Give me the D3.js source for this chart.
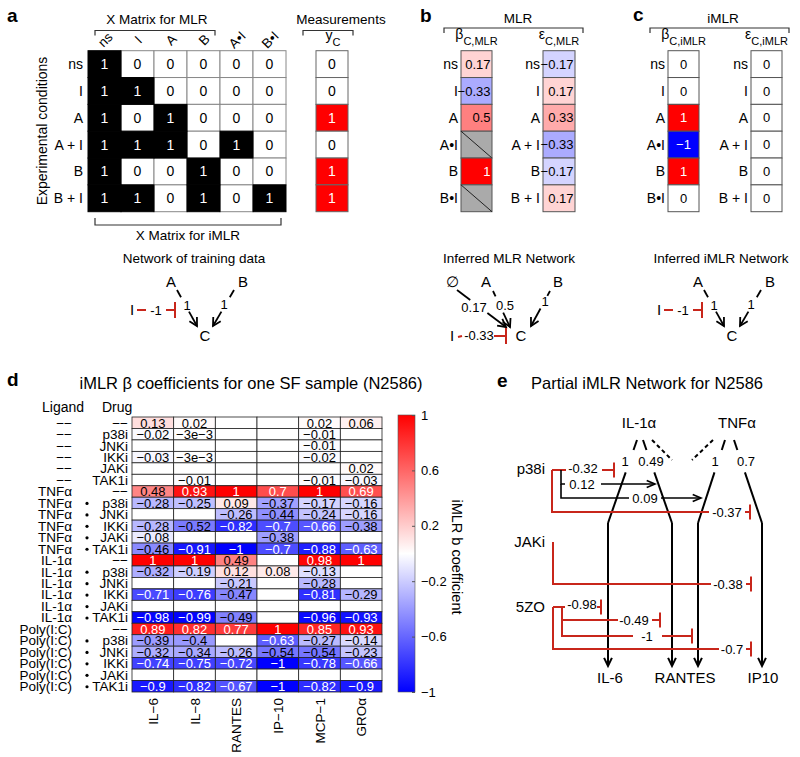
<!DOCTYPE html>
<html><head><meta charset="utf-8">
<script src="https://cdn.jsdelivr.net/npm/d3@7"></script>
<style>body{margin:0;background:#fff}</style>
</head><body>
<svg id="c" width="800" height="757"></svg>
<script>
// ---------------- DATA ----------------
const conditions = ["ns", "I", "A", "A + I", "B", "B + I"];
const xCols = ["ns", "I", "A", "B", "A•I", "B•I"];
const xMatrix = [
  [1,0,0,0,0,0],
  [1,1,0,0,0,0],
  [1,0,1,0,0,0],
  [1,1,1,0,1,0],
  [1,0,0,1,0,0],
  [1,1,0,1,0,1]
];
const yC = [0,0,1,0,1,1];
const betaTerms = ["ns", "I", "A", "A•I", "B", "B•I"];
const betaMLR = [0.17, -0.33, 0.5, null, 1, null];
const epsMLR = [-0.17, 0.17, 0.33, -0.33, -0.17, 0.17];
const betaIMLR = [0, 0, 1, -1, 1, 0];
const epsIMLR = [0, 0, 0, 0, 0, 0];

const trainingEdges = [{from:"A", to:"C", w:1}, {from:"B", to:"C", w:1}, {from:"I", to:"C", w:-1}];
const mlrEdges = [{from:"∅", to:"C", w:0.17}, {from:"A", to:"C", w:0.5}, {from:"B", to:"C", w:1}, {from:"I", to:"C", w:-0.33}];
const imlrEdges = [{from:"A", to:"C", w:1}, {from:"B", to:"C", w:1}, {from:"I", to:"C", w:-1}];

const cytokines = ["IL−6", "IL−8", "RANTES", "IP−10", "MCP−1", "GROα"];
const ligandNames = ["--", "TNFα", "IL-1α", "Poly(I:C)"];
const drugNames = ["--", "p38i", "JNKi", "IKKi", "JAKi", "TAK1i"];
const betaN2586 = [
  [0.13, 0.02, null, null, 0.02, 0.06],
  [-0.02, -0.003, null, null, -0.01, null],
  [null, null, null, null, -0.01, null],
  [-0.03, -0.003, null, null, -0.02, null],
  [null, null, null, null, null, 0.02],
  [null, -0.01, null, null, -0.01, -0.03],
  [0.48, 0.93, 1, 0.7, 1, 0.69],
  [-0.28, -0.25, 0.09, -0.37, -0.17, -0.16],
  [null, null, -0.26, -0.44, -0.24, -0.16],
  [-0.28, -0.52, -0.82, -0.7, -0.66, -0.38],
  [-0.08, null, null, -0.38, null, null],
  [-0.46, -0.91, -1, -0.7, -0.88, -0.63],
  [1, 1, 0.49, null, 0.98, 1],
  [-0.32, -0.19, 0.12, 0.08, -0.13, null],
  [null, null, -0.21, null, -0.28, null],
  [-0.71, -0.76, -0.47, null, -0.81, -0.29],
  [null, null, null, null, null, null],
  [-0.98, -0.99, -0.49, null, -0.96, -0.93],
  [0.89, 0.82, 0.77, 1, 0.85, 0.93],
  [-0.39, -0.4, null, -0.63, -0.27, -0.14],
  [-0.32, -0.34, -0.26, -0.54, -0.54, -0.23],
  [-0.74, -0.75, -0.72, -1, -0.78, -0.66],
  [null, null, null, null, null, null],
  [-0.9, -0.82, -0.67, -1, -0.82, -0.9]
];
const colorTicks = [1, 0.6, 0.2, -0.2, -0.6, -1];

const eLigandEdges = [
  {from:"IL-1α", to:"IL-6", w:1},
  {from:"IL-1α", to:"RANTES", w:0.49},
  {from:"TNFα", to:"RANTES", w:1},
  {from:"TNFα", to:"IP10", w:0.7}
];
const eDrugEdges = [
  {drug:"p38i", w:-0.32}, {drug:"p38i", w:0.12}, {drug:"p38i", w:0.09}, {drug:"p38i", w:-0.37},
  {drug:"JAKi", w:-0.38},
  {drug:"5ZO", w:-0.98}, {drug:"5ZO", w:-0.49}, {drug:"5ZO", w:-1}, {drug:"5ZO", w:-0.7}
];

// ---------------- SETUP ----------------
const FONT = "'Liberation Sans', Arial, Helvetica, sans-serif";
const RED = "#c8261b";
const svg = d3.select("#c").style("font-family", FONT);
const col = d3.scaleLinear().domain([-1, 0, 1]).range(["#0000ff", "#ffffff", "#ff0000"]);

function txt(g, x, y, s, o = {}) {
  const t = g.append("text").attr("x", x).attr("y", y).text(s)
    .attr("font-size", o.size || 13).attr("text-anchor", o.anchor || "middle")
    .attr("fill", o.fill || "#000");
  if (o.bold) t.attr("font-weight", "bold");
  if (o.dy) t.attr("dy", o.dy);
  if (o.rot != null) t.attr("transform", `rotate(${o.rot},${x},${y})`);
  return t;
}
const lineGen = d3.line();
function poly(g, pts, color, w, dash) {
  const p = g.append("path").attr("d", lineGen(pts)).attr("fill", "none")
    .attr("stroke", color).attr("stroke-width", w);
  if (dash) p.attr("stroke-dasharray", dash);
  return p;
}
function chevron(g, x1, y1, x2, y2, color, w, len = 9, ang = 0.5) {
  const a = Math.atan2(y2 - y1, x2 - x1);
  const p1 = [x2 - len * Math.cos(a - ang), y2 - len * Math.sin(a - ang)];
  const p2 = [x2 - len * Math.cos(a + ang), y2 - len * Math.sin(a + ang)];
  poly(g, [p1, [x2, y2], p2], color, w);
}
function tbar(g, x, y, h, color) {
  poly(g, [[x, y - h], [x, y + h]], color, 2);
}
function lerp(p0, p1, t) { return [p0[0] + (p1[0] - p0[0]) * t, p0[1] + (p1[1] - p0[1]) * t]; }
function gapLine(g, p0, p1, t0, t1, color, w) {
  poly(g, [p0, lerp(p0, p1, t0)], color, w);
  poly(g, [lerp(p0, p1, t1), p1], color, w);
}
function bracket(g, x0, x1, y, tick) {
  poly(g, [[x0, y + tick], [x0, y], [x1, y], [x1, y + tick]], "#333", 1.2);
}

// panel letters
[["a", 7, 22], ["b", 420, 22], ["c", 633, 21], ["d", 7, 386], ["e", 497, 387]].forEach(([s, x, y]) =>
  txt(svg, x, y, s, {size: 19, bold: true, anchor: "start"}));

// ---------------- PANEL A ----------------
const gA = svg.append("g");
const aCol = d3.scaleBand().domain(d3.range(6)).range([88, 286]);
const aRow = d3.scaleBand().domain(d3.range(6)).range([50.7, 211.7]);
const aCells = [];
xMatrix.forEach((r, i) => r.forEach((v, j) => aCells.push({i, j, v})));
aCells.sort((a, b) => a.v - b.v);
aCells.forEach(c => {
  gA.append("rect").attr("x", aCol(c.j)).attr("y", aRow(c.i))
    .attr("width", aCol.bandwidth()).attr("height", aRow.bandwidth())
    .attr("fill", c.v ? "#000" : "#fff").attr("stroke", c.v ? "#000" : "#888").attr("stroke-width", 1);
  txt(gA, aCol(c.j) + aCol.bandwidth() / 2, aRow(c.i) + aRow.bandwidth() / 2, c.v, {size: 14, dy: "0.36em", fill: c.v ? "#fff" : "#000"});
});
xCols.forEach((s, j) => txt(gA, aCol(j) + aCol.bandwidth() / 2 + 4, 43, s, {size: 13.5, rot: -45}));
conditions.forEach((s, i) => txt(gA, 83, aRow(i) + aRow.bandwidth() / 2, s, {size: 14, anchor: "end", dy: "0.36em"}));
txt(gA, 47, 131, "Experimental conditions", {size: 14, rot: -90});
yC.forEach((v, i) => {
  gA.append("rect").attr("x", 316).attr("y", aRow(i)).attr("width", 32).attr("height", aRow.bandwidth())
    .attr("fill", v ? "#ff0000" : "#fff").attr("stroke", "#666").attr("stroke-width", 1);
  txt(gA, 332, aRow(i) + aRow.bandwidth() / 2, v, {size: 14, dy: "0.36em", fill: v ? "#fff" : "#000"});
});
bracket(gA, 95, 215, 30.5, 5);
txt(gA, 157, 24, "X Matrix for MLR", {size: 13.5});
bracket(gA, 303, 353, 30.5, 5);
txt(gA, 341, 24, "Measurements", {size: 13.5});
{
  const t = gA.append("text").attr("x", 333).attr("y", 40).attr("text-anchor", "middle").attr("font-size", 14);
  t.append("tspan").text("y");
  t.append("tspan").attr("dy", 6).attr("font-size", 11).text("C");
}
bracket(gA, 95, 281, 225, -7);
txt(gA, 188, 240, "X Matrix for iMLR", {size: 13.5});

// simple network (panel a and c)
function simpleNet(g, ox, edges, title) {
  txt(g, 194 + ox, 263, title, {size: 13.5});
  const N = {A: [171 + ox, 282], B: [243 + ox, 282], C: [205 + ox, 336], I: [132 + ox, 310]};
  Object.entries(N).forEach(([k, p]) => txt(g, p[0], p[1], k, {size: 15, dy: "0.36em"}));
  edges.forEach(e => {
    if (e.from === "A") {
      const p0 = [177 + ox, 290], p1 = [197 + ox, 326];
      gapLine(g, p0, p1, 0.2, 0.6, "#000", 1.8);
      chevron(g, p0[0], p0[1], p1[0], p1[1], "#000", 1.8);
      txt(g, 187 + ox, 305, e.w, {size: 13, dy: "0.36em"});
    } else if (e.from === "B") {
      const p0 = [234 + ox, 290], p1 = [213 + ox, 326];
      gapLine(g, p0, p1, 0.2, 0.6, "#000", 1.8);
      chevron(g, p0[0], p0[1], p1[0], p1[1], "#000", 1.8);
      txt(g, 224 + ox, 304, e.w, {size: 13, dy: "0.36em"});
    } else {
      poly(g, [[137 + ox, 310], [146 + ox, 310]], RED, 2);
      poly(g, [[166 + ox, 310], [175 + ox, 310]], RED, 2);
      tbar(g, 175 + ox, 310, 8, RED);
      txt(g, 156 + ox, 310, String(e.w), {size: 13, dy: "0.36em"});
    }
  });
}
simpleNet(gA, 0, trainingEdges, "Network of training data");

// ---------------- PANELS B & C ----------------
function coefCol(g, x0, w, rowLabels, vals, align, sym, sub) {
  vals.forEach((v, i) => {
    const y = aRow(i), h = aRow.bandwidth();
    g.append("rect").attr("x", x0).attr("y", y).attr("width", w).attr("height", h)
      .attr("fill", v === null ? "#aaaaaa" : col(v)).attr("stroke", "#555").attr("stroke-width", 1);
    if (v === null) {
      poly(g, [[x0, y], [x0 + w, y + h]], "#222", 1);
    } else {
      const tx = align === "right" ? x0 + w - 1.5 : x0 + w / 2;
      txt(g, tx, y + h / 2, d3.format("")(v), {size: 13, anchor: align === "right" ? "end" : "middle", dy: "0.36em",
        fill: Math.abs(v) >= 0.6 ? "#fff" : "#000"});
    }
    txt(g, x0 - 3, y + h / 2, rowLabels[i], {size: 14, anchor: "end", dy: "0.36em"});
  });
  const t = g.append("text").attr("x", x0 + w / 2).attr("y", 39).attr("text-anchor", "middle").attr("font-size", 14);
  t.append("tspan").text(sym);
  t.append("tspan").attr("dy", 6).attr("font-size", 11).text(sub);
}
const gB = svg.append("g");
bracket(gB, 444, 583, 28, 5);
txt(gB, 518, 23, "MLR", {size: 13.5});
coefCol(gB, 461, 31, betaTerms, betaMLR, "right", "β", "C,MLR");
coefCol(gB, 543, 32, conditions, epsMLR, "right", "ε", "C,MLR");

const gC = svg.append("g");
bracket(gC, 650, 789, 28, 5);
txt(gC, 723, 23, "iMLR", {size: 13.5});
coefCol(gC, 668, 31, betaTerms, betaIMLR, "middle", "β", "C,iMLR");
coefCol(gC, 751, 31, conditions, epsIMLR, "middle", "ε", "C,iMLR");

// panel b network
{
  const g = gB;
  txt(g, 509, 263, "Inferred MLR Network", {size: 13.5});
  const N = {"∅": [452, 282], A: [486, 282], B: [558, 282], C: [521, 336], I: [452, 336]};
  Object.entries(N).forEach(([k, p]) => txt(g, p[0], p[1], k, {size: 15, dy: "0.36em"}));
  const geo = {
    "∅": {p0: [457, 290], p1: [506, 327], t0: 0.27, t1: 0.62, lab: [474, 307]},
    A: {p0: [493, 291], p1: [510, 327], t0: 0.15, t1: 0.6, lab: [505, 305]},
    B: {p0: [550, 291], p1: [531, 326], t0: 0.14, t1: 0.5, lab: [545, 301]}
  };
  mlrEdges.forEach(e => {
    if (e.w > 0) {
      const q = geo[e.from];
      gapLine(g, q.p0, q.p1, q.t0, q.t1, "#000", 1.8);
      chevron(g, q.p0[0], q.p0[1], q.p1[0], q.p1[1], "#000", 1.8);
      txt(g, q.lab[0], q.lab[1], e.w, {size: 13, dy: "0.36em"});
    } else {
      poly(g, [[458, 337], [462, 336]], RED, 2);
      poly(g, [[494, 336], [506, 336]], RED, 2);
      tbar(g, 506, 336, 8, RED);
      txt(g, 479, 335, String(e.w), {size: 13, dy: "0.36em"});
    }
  });
}
simpleNet(gC, 527, imlrEdges, "Inferred iMLR Network");

// ---------------- PANEL D ----------------
const gD = svg.append("g");
txt(gD, 251, 389, "iMLR β coefficients for one SF sample (N2586)", {size: 16.5});
txt(gD, 42, 412, "Ligand", {size: 14, anchor: "start"});
txt(gD, 102, 412, "Drug", {size: 14, anchor: "start"});
const rows = [];
ligandNames.forEach(l => drugNames.forEach(d => rows.push({l, d})));
const hx = d3.scaleBand().domain(cytokines).range([132, 382]);
const hy = d3.scaleBand().domain(d3.range(rows.length)).range([417, 692]);
function fmtH(v) {
  if (v === null) return "";
  const s = (Math.abs(v) < 0.01) ? Math.round(v * 1000) + "e-3" : String(v);
  return s.replace(/-/g, "−");
}
betaN2586.forEach((r, i) => r.forEach((v, j) => {
  const x = hx(cytokines[j]), y = hy(i);
  gD.append("rect").attr("x", x).attr("y", y).attr("width", hx.bandwidth()).attr("height", hy.bandwidth())
    .attr("fill", v === null ? "#fff" : col(v)).attr("stroke", "#222").attr("stroke-width", 0.8);
}));
betaN2586.forEach((r, i) => r.forEach((v, j) => {
  if (v === null) return;
  txt(gD, hx(cytokines[j]) + hx.bandwidth() / 2, hy(i) + hy.bandwidth() / 2, fmtH(v),
    {size: 13, dy: "0.37em", fill: Math.abs(v) >= 0.6 ? "#fff" : "#000"});
}));
rows.forEach((r, i) => {
  const cy = hy(i) + hy.bandwidth() / 2;
  txt(gD, 72, cy, r.l === "--" ? "−−" : r.l, {size: 13.5, anchor: "end", dy: "0.36em"});
  txt(gD, 128, cy, r.d === "--" ? "−−" : r.d, {size: 13.5, anchor: "end", dy: "0.36em"});
  if (r.l !== "--" && r.d !== "--") gD.append("circle").attr("cx", 87).attr("cy", cy + 0.5).attr("r", 1.6).attr("fill", "#000");
});
cytokines.forEach(c => txt(gD, hx(c) + hx.bandwidth() / 2 + 5, 698, c, {size: 13.5, anchor: "end", rot: -90}));

// colorbar
const defs = svg.append("defs");
const grad = defs.append("linearGradient").attr("id", "cbar").attr("x1", 0).attr("y1", 0).attr("x2", 0).attr("y2", 1);
[[0, col(1)], [0.5, col(0)], [1, col(-1)]].forEach(([o, c]) => grad.append("stop").attr("offset", o).attr("stop-color", c));
const cbY = d3.scaleLinear().domain([-1, 1]).range([692, 415]);
gD.append("rect").attr("x", 398).attr("y", 415).attr("width", 17).attr("height", 277)
  .attr("fill", "url(#cbar)").attr("stroke", "#555").attr("stroke-width", 0.6);
const ax = gD.append("g").attr("transform", "translate(415,0)")
  .call(d3.axisRight(cbY).tickValues(colorTicks).tickSize(-3).tickPadding(6).tickFormat(d3.format("")));
ax.select(".domain").remove();
ax.selectAll("text").attr("font-size", 13).attr("font-family", FONT);
ax.selectAll("line").attr("stroke", "#555");
txt(gD, 452, 557, "iMLR b coefficient", {size: 14.5, rot: 90});

// ---------------- PANEL E ----------------
const gE = svg.append("g");
txt(gE, 647, 389, "Partial iMLR Network for N2586", {size: 16.5});
const eNodes = {
  "IL-1α": [639, 428], "TNFα": [737, 428],
  "IL-6": [610, 683], "RANTES": [685, 683], "IP10": [763, 683]
};
Object.entries(eNodes).forEach(([k, p]) => txt(gE, p[0], p[1], k, {size: 15}));
const eDrugPos = {"p38i": [545, 474], "JAKi": [545, 547], "5ZO": [545, 612]};
Object.entries(eDrugPos).forEach(([k, p]) => txt(gE, p[0], p[1], k, {size: 15, anchor: "end"}));

// ligand edge layout
const eLigGeo = [
  {p0: [637, 440], bend: [608, 523], end: [608, 666], lab: [625, 461]},
  {p0: [643, 440], bend: [672, 523], end: [672, 666], lab: [651, 461]},
  {p0: [725, 440], bend: [698, 523], end: [698, 666], lab: [715, 461]},
  {p0: [734, 440], bend: [762, 523], end: [762, 666], lab: [746, 461]}
];
eLigandEdges.forEach((e, i) => {
  const q = eLigGeo[i];
  gapLine(gE, q.p0, q.bend, 0.12, 0.39, "#000", 2);
  poly(gE, [q.bend, q.end], "#000", 2);
  chevron(gE, q.end[0], q.end[1] - 20, q.end[0], q.end[1], "#000", 2, 9, 0.45);
  txt(gE, q.lab[0], q.lab[1], e.w, {size: 13, dy: "0.36em"});
});
poly(gE, [[652, 440], [672, 460]], "#000", 2, "4,3");
poly(gE, [[713, 440], [692, 460]], "#000", 2, "4,3");

// drug edge layout
const eDrugGeo = [
  {pts: [[552, 470], [614, 470]], gap: [566, 602], lab: [583, 468]},
  {pts: [[561, 470], [561, 484], [655, 484]], gap: [565, 601], lab: [582, 484]},
  {pts: [[561, 484], [561, 498], [701, 498]], gap: [629, 661], lab: [645, 498]},
  {pts: [[552, 470], [552, 512], [750, 512]], gap: [709, 745], lab: [727, 512]},
  {pts: [[553, 542], [553, 584], [751, 584]], gap: [711, 746], lab: [728, 584]},
  {pts: [[553, 607], [601, 607]], gap: [565, 597], lab: [582, 604]},
  {pts: [[562, 607], [562, 620], [660, 620]], gap: [618, 652], lab: [634, 620]},
  {pts: [[562, 620], [562, 636], [692, 636]], gap: [633, 662], lab: [647, 636]},
  {pts: [[553, 607], [553, 649], [751, 649]], gap: [719, 746], lab: [732, 649]}
];
eDrugEdges.forEach((e, i) => {
  const q = eDrugGeo[i];
  const last = q.pts[q.pts.length - 1];
  const y = last[1];
  const color = e.w < 0 ? RED : "#000";
  const lw = e.w < 0 ? 2 : 1.6;
  poly(gE, q.pts.slice(0, -1).concat([[q.gap[0], y]]), color, lw);
  poly(gE, [[q.gap[1], y], last], color, lw);
  if (e.w < 0) tbar(gE, last[0], y, 7.5, RED);
  else chevron(gE, last[0] - 20, y, last[0], y, "#000", 1.6, 9, 0.4);
  txt(gE, q.lab[0], q.lab[1], String(e.w), {size: 13, dy: "0.36em"});
});
</script>
</body></html>
